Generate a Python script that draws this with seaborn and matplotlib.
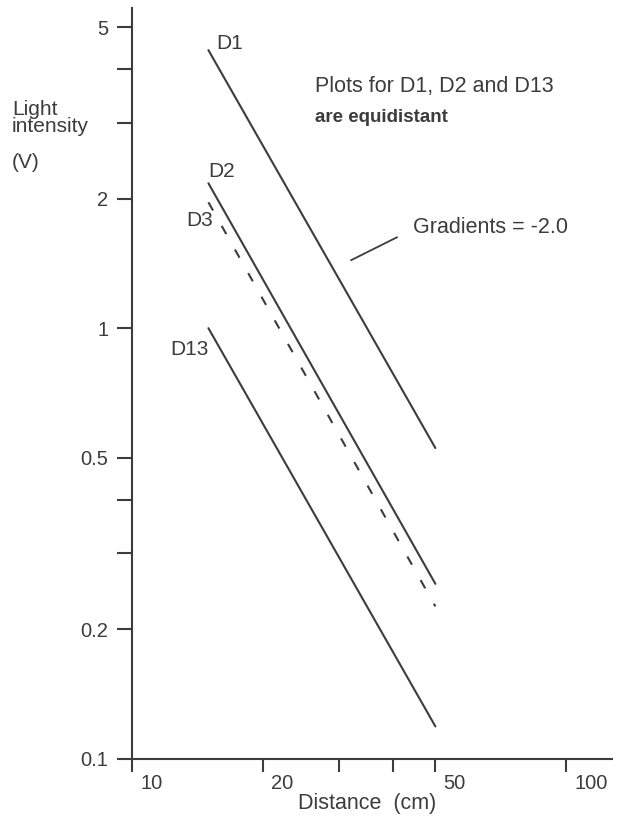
import matplotlib
matplotlib.use("Agg")
import matplotlib.pyplot as plt
import matplotlib.transforms as mtransforms
from matplotlib.ticker import FixedLocator, FixedFormatter, NullLocator
import seaborn as sns
import pandas as pd

# ---- data ----
distance = [15, 50]
d1 = [4.42, 0.527]
d2 = [2.17, 0.255]
d3 = [1.96, 0.226]
d13 = [1.0, 0.119]
series_names = ["D1", "D2", "D3", "D13"]
x_ticks = [10, 20, 30, 40, 50, 100]
x_tick_labels = ["10", "20", "", "", "50", "100"]
y_ticks = [0.1, 0.2, 0.3, 0.4, 0.5, 1, 2, 3, 4, 5]
y_tick_labels = ["0.1", "0.2", "", "", "0.5", "1", "2", "", "", "5"]

df = pd.DataFrame({
    "distance": distance * 4,
    "intensity": d1 + d2 + d3 + d13,
    "series": [n for n in series_names for _ in distance],
})

sns.set_style("ticks")
plt.rcParams["font.family"] = ["Liberation Sans", "DejaVu Sans"]
ink = "#3c3c3c"

fig = plt.figure(figsize=(6.17, 8.16), dpi=100)
ax = fig.add_axes([0.2139, 0.0699, 0.778, 0.920])

for name in series_names:
    sub = df[df["series"] == name]
    ls = (0, (4.5, 8.5)) if name == "D3" else "-"
    sns.lineplot(data=sub, x="distance", y="intensity", ax=ax, color=ink,
                 lw=1.5, linestyle=ls, legend=False)

ax.set_xscale("log")
ax.set_yscale("log")
ax.set_xlim(10, 127.6)
ax.set_ylim(0.1, 5.53)

ax.xaxis.set_major_locator(FixedLocator(x_ticks))
ax.xaxis.set_major_formatter(FixedFormatter(x_tick_labels))
ax.xaxis.set_minor_locator(NullLocator())
ax.yaxis.set_major_locator(FixedLocator(y_ticks))
ax.yaxis.set_major_formatter(FixedFormatter(y_tick_labels))
ax.yaxis.set_minor_locator(NullLocator())

for s in ["top", "right"]:
    ax.spines[s].set_visible(False)
for s in ["left", "bottom"]:
    ax.spines[s].set_color(ink)
    ax.spines[s].set_linewidth(1.5)

ax.tick_params(axis="y", direction="out", length=11, width=1.5, color=ink,
               labelsize=14.5, labelcolor=ink, pad=6)
ax.tick_params(axis="x", direction="out", length=9.5, width=1.5, color=ink,
               labelsize=14.5, labelcolor=ink, pad=1)
offset = mtransforms.ScaledTranslation(6 / 72, 0, fig.dpi_scale_trans)
for lab in ax.get_xticklabels():
    lab.set_horizontalalignment("left")
    lab.set_transform(lab.get_transform() + offset)

ax.set_xlabel("")
ax.set_ylabel("")
fig.text(367 / 617, 1 - 803 / 816, "Distance  (cm)", fontsize=15.5, color=ink,
         ha="center", va="center")
fig.text(12 / 617, 1 - 118 / 816, "Light\nintensity", fontsize=15, color=ink,
         ha="left", va="center", linespacing=0.85)
fig.text(12 / 617, 1 - 163 / 816, "(V)", fontsize=15, color=ink,
         ha="left", va="center")

# series labels
ax.text(15.62, 4.59, "D1", fontsize=15, color=ink, ha="left", va="center")
ax.text(14.96, 2.31, "D2", fontsize=15, color=ink, ha="left", va="center")
ax.text(15.37, 1.78, "D3", fontsize=15, color=ink, ha="right", va="center")
ax.text(15.04, 0.894, "D13", fontsize=15, color=ink, ha="right", va="center")

ax.text(26.4, 3.63, "Plots for D1, D2 and D13", fontsize=15.5, color=ink,
        ha="left", va="center")
ax.text(26.4, 3.09, "are equidistant", fontsize=13.5, color=ink, fontweight="bold",
        ha="left", va="center")
ax.text(44.4, 1.71, "Gradients = -2.0", fontsize=15.5, color=ink,
        ha="left", va="center")
ax.plot([31.96, 40.8], [1.438, 1.626], color=ink, lw=1.3)

fig.savefig("out.png", dpi=100, facecolor="white")
